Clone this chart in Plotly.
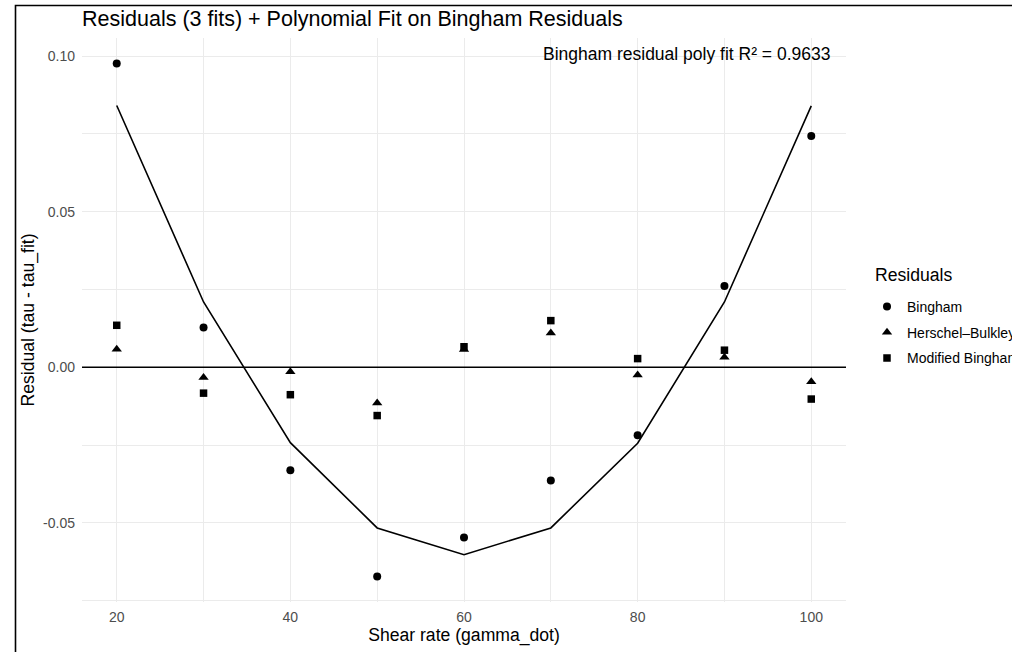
import plotly.graph_objects as go

# ---- data ----
shear_rate = [20, 30, 40, 50, 60, 70, 80, 90, 100]
res_bingham = [0.0976, 0.0128, -0.0331, -0.0672, -0.0547, -0.0364, -0.0218, 0.0261, 0.0743]
res_hb = [0.0058, -0.0033, -0.0014, -0.0115, 0.0057, 0.0110, -0.0025, 0.0032, -0.0046]
res_modbingham = [0.0135, -0.0083, -0.0088, -0.0155, 0.0066, 0.0150, 0.0028, 0.0055, -0.0102]
poly_fit_bingham = [0.0841, 0.0210, -0.0242, -0.0516, -0.0602, -0.0516, -0.0244, 0.0210, 0.0840]

x_tickvals = [20, 40, 60, 80, 100]
x_ticktext = ["20", "40", "60", "80", "100"]
y_tickvals = [-0.05, 0.0, 0.05, 0.10]
y_ticktext = ["-0.05", "0.00", "0.05", "0.10"]

series_names = ["Bingham", "Herschel\u2013Bulkley", "Modified Bingham"]
r2_text = "Bingham residual poly fit R\u00b2 = 0.9633"

FONT = "Liberation Sans, Arial, sans-serif"
W, H = 1012, 652
L, R, T, B = 82, 166, 38, 50
pw, ph = W - L - R, H - T - B

def px_x(p):
    return (p - L) / pw

def px_y(p):
    return (H - B - p) / ph

fig = go.Figure()

symbols = ["circle", "triangle-up", "square"]
sizes = [8, 9, 7.5]
for i, (name, vals) in enumerate(zip(series_names, [res_bingham, res_hb, res_modbingham])):
    fig.add_trace(go.Scatter(
        x=shear_rate, y=vals, mode="markers", name=name,
        legendgroup=name,
        marker=dict(symbol=symbols[i], size=sizes[i], color="black", line=dict(width=0)),
    ))

fig.add_trace(go.Scatter(
    x=shear_rate, y=poly_fit_bingham, mode="lines", showlegend=False,
    line=dict(color="black", width=1.6),
))

fig.update_layout(
    width=W, height=H,
    margin=dict(l=L, r=R, t=T, b=B, autoexpand=False),
    paper_bgcolor="white", plot_bgcolor="white",
    font=dict(family=FONT, color="black"),
    title=dict(
        text="Residuals (3 fits) + Polynomial Fit on Bingham Residuals",
        x=px_x(82), xref="paper", xanchor="left",
        y=1 - 18 / H, yref="container", yanchor="middle",
        font=dict(size=21.5, color="black", family=FONT),
    ),
    showlegend=True,
    legend=dict(
        x=px_x(867), xanchor="left",
        y=px_y(291), yanchor="top",
        font=dict(size=14, color="black", family=FONT),
        tracegroupgap=4.5,
        bgcolor="rgba(0,0,0,0)",
        itemsizing="trace",
    ),
)

fig.update_xaxes(
    range=[16, 104],
    tickvals=x_tickvals, ticktext=x_ticktext,
    showgrid=True, gridcolor="#ebebeb", gridwidth=1.2,
    minor=dict(dtick=10, tick0=0, showgrid=True, gridcolor="#ebebeb", gridwidth=0.8),
    zeroline=False, showline=False, ticks="",
    tickfont=dict(size=14, color="#4d4d4d", family=FONT),
    ticklabelstandoff=5,
    title=dict(text="Shear rate (gamma_dot)", font=dict(size=17.6, color="black", family=FONT), standoff=4),
)
fig.update_yaxes(
    range=[-0.0754, 0.1058],
    tickvals=y_tickvals, ticktext=y_ticktext,
    showgrid=True, gridcolor="#ebebeb", gridwidth=1.2,
    minor=dict(dtick=0.025, tick0=0, showgrid=True, gridcolor="#ebebeb", gridwidth=0.8),
    zeroline=False, showline=False, ticks="",
    tickfont=dict(size=14, color="#4d4d4d", family=FONT),
    ticklabelstandoff=6,
    title=dict(text="Residual (tau - tau_fit)", font=dict(size=17.6, color="black", family=FONT), standoff=3),
)

# zero reference line
fig.add_shape(type="line", xref="paper", x0=0, x1=1, yref="y", y0=0, y1=0,
              line=dict(color="black", width=1.5), layer="above")

# outer frame (offset, partially cut off like the reference)
fig.add_shape(type="rect", xref="paper", yref="paper",
              x0=px_x(15.5), x1=px_x(1100), y0=px_y(700), y1=px_y(5.5),
              line=dict(color="black", width=1.6), fillcolor="rgba(0,0,0,0)", layer="above")

# R^2 annotation
fig.add_annotation(text=r2_text, xref="paper", yref="paper",
                   x=px_x(832), y=px_y(54), xanchor="right", yanchor="middle",
                   showarrow=False, font=dict(size=17.5, color="black", family=FONT))

# legend title
fig.add_annotation(text="Residuals", xref="paper", yref="paper",
                   x=px_x(873), y=px_y(275), xanchor="left", yanchor="middle",
                   showarrow=False, font=dict(size=17.6, color="black", family=FONT))

fig.write_html("out.html")
